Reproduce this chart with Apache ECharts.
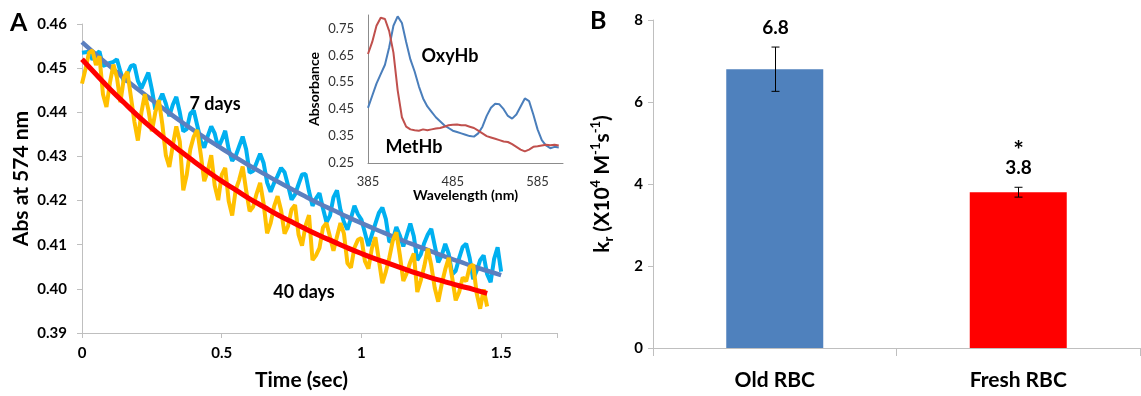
<!DOCTYPE html>
<html>
<head>
<meta charset="utf-8">
<script src="https://cdn.jsdelivr.net/npm/echarts@6/dist/echarts.min.js"></script>
<style>
html,body{margin:0;padding:0;background:#fff;}
#chart{width:1141px;height:396px;}
</style>
</head>
<body>
<div id="chart"></div>
<script>
// ---------- Panel A: kinetic traces (Abs at 574 nm) ----------
const traceStep = 0.0125; // s between points of the raw traces
const fitStep = 0.05;     // s between points of the fitted curves
// raw trace, RBC stored 7 days (cyan)
const trace7days = [
  0.4535,0.4536,0.4537,0.4519,0.4531,0.4538,0.4505,0.4508,0.4512,0.4514,
  0.4520,0.4492,0.4469,0.4487,0.4505,0.4507,0.4471,0.4454,0.4472,0.4490,
  0.4452,0.4406,0.4424,0.4442,0.4420,0.4391,0.4417,0.4435,0.4400,0.4357,
  0.4362,0.4397,0.4404,0.4370,0.4336,0.4320,0.4346,0.4368,0.4352,0.4320,
  0.4337,0.4358,0.4316,0.4290,0.4301,0.4323,0.4345,0.4316,0.4263,0.4267,
  0.4286,0.4306,0.4285,0.4241,0.4220,0.4240,0.4256,0.4274,0.4264,0.4234,
  0.4202,0.4214,0.4237,0.4259,0.4260,0.4221,0.4188,0.4205,0.4217,0.4182,
  0.4151,0.4166,0.4207,0.4223,0.4179,0.4151,0.4134,0.4160,0.4188,0.4169,
  0.4157,0.4127,0.4097,0.4123,0.4148,0.4172,0.4184,0.4158,0.4106,0.4111,
  0.4140,0.4121,0.4096,0.4122,0.4148,0.4119,0.4065,0.4078,0.4104,0.4123,
  0.4136,0.4098,0.4060,0.4076,0.4102,0.4079,0.4033,0.4041,0.4070,0.4095,
  0.4102,0.4070,0.4022,0.4041,0.4065,0.4076,0.4033,0.4015,0.4068,0.4094,
  0.4039
];
// raw trace, RBC stored 40 days (yellow)
const trace40days = [
  0.4465,0.4498,0.4535,0.4540,0.4507,0.4527,0.4441,0.4412,0.4467,0.4508,
  0.4479,0.4423,0.4478,0.4492,0.4435,0.4379,0.4336,0.4399,0.4441,0.4406,
  0.4357,0.4400,0.4428,0.4373,0.4303,0.4276,0.4325,0.4368,0.4334,0.4223,
  0.4259,0.4316,0.4345,0.4360,0.4305,0.4244,0.4266,0.4303,0.4234,0.4201,
  0.4258,0.4274,0.4199,0.4166,0.4224,0.4247,0.4277,0.4223,0.4176,0.4186,
  0.4216,0.4240,0.4193,0.4126,0.4149,0.4187,0.4210,0.4178,0.4125,0.4142,
  0.4180,0.4190,0.4123,0.4098,0.4143,0.4167,0.4065,0.4076,0.4093,0.4139,
  0.4149,0.4118,0.4086,0.4118,0.4149,0.4125,0.4058,0.4048,0.4093,0.4111,
  0.4115,0.4063,0.4046,0.4092,0.4117,0.4065,0.4013,0.4039,0.4071,0.4110,
  0.4128,0.4077,0.4018,0.4036,0.4061,0.4080,0.3993,0.4019,0.4051,0.4091,
  0.4053,0.4002,0.3971,0.4011,0.4044,0.4070,0.4025,0.3974,0.3993,0.4026,
  0.4017,0.4050,0.4055,0.3990,0.3955,0.3999,0.3960
];
// fitted curves
const fit7days = [
  0.4559,0.4531,0.4504,0.4477,0.4452,0.4428,0.4404,0.4381,0.4359,0.4338,
  0.4318,0.4298,0.4279,0.4261,0.4243,0.4226,0.4209,0.4193,0.4178,0.4163,
  0.4149,0.4135,0.4122,0.4109,0.4097,0.4085,0.4073,0.4062,0.4051,0.4041,
  0.4031
];
const fit40days = [
  0.4520,0.4486,0.4453,0.4422,0.4392,0.4364,0.4338,0.4313,0.4289,0.4266,
  0.4244,0.4224,0.4204,0.4186,0.4168,0.4152,0.4136,0.4121,0.4107,0.4093,
  0.4080,0.4068,0.4057,0.4046,0.4035,0.4025,0.4016,0.4007,0.3999,0.3990
];
const absTicks = [0.39,0.40,0.41,0.42,0.43,0.44,0.45,0.46];
const timeTicks = [0, 0.5, 1, 1.5];

// ---------- Inset: absorption spectra ----------
const wlStart = 385, wlStep = 5;
const oxyHb = [
  0.455,0.500,0.545,0.580,0.615,0.680,0.760,0.795,0.770,0.700,
  0.635,0.590,0.535,0.490,0.460,0.440,0.420,0.405,0.390,0.380,
  0.370,0.365,0.360,0.355,0.350,0.348,0.360,0.385,0.425,0.455,
  0.470,0.468,0.450,0.425,0.415,0.430,0.460,0.490,0.480,0.430,
  0.375,0.335,0.315,0.305,0.310,0.308
];
const metHb = [
  0.655,0.700,0.760,0.790,0.785,0.740,0.660,0.520,0.420,0.385,
  0.375,0.372,0.370,0.375,0.372,0.375,0.378,0.380,0.385,0.390,
  0.392,0.393,0.390,0.390,0.385,0.380,0.370,0.360,0.350,0.345,
  0.340,0.335,0.330,0.328,0.320,0.310,0.300,0.293,0.300,0.310,
  0.312,0.315,0.318,0.316,0.318,0.315
];
const insetAbsTicks = [0.25,0.35,0.45,0.55,0.65,0.75];
const insetWlTicks = [385,485,585];

// ---------- Panel B: rate constants ----------
const groups = ['Old RBC','Fresh RBC'];
const kr = [6.8, 3.8];
const krErr = [0.54, 0.12];
const krLabels = ['6.8','3.8'];
const sigMarks = ['', '*'];
const barColors = ['#4F81BD','#FF0000'];

const FONT = 'Lato';
const trace = (arr, step) => arr.map((v,i)=>[+(i*step).toFixed(4), v]);
const spec = arr => arr.map((v,i)=>[wlStart + i*wlStep, v]);
const hasTick = (ticks, v) => ticks.some(t => Math.abs(t - v) < 1e-6);

const chart = echarts.init(document.getElementById('chart'));
const axisGray = '#BFBFBF';

const option = {
  animation: false,
  backgroundColor: '#fff',
  textStyle: {fontFamily: FONT},
  grid: [
    {left: 82, top: 24, width: 475, height: 312},
    {left: 368, top: 15, width: 195, height: 148},
    {left: 653, top: 20, width: 487, height: 328}
  ],
  xAxis: [
    {
      gridIndex: 0, type: 'value', min: 0, max: 1.7, interval: 0.5,
      axisLine: {show: true, lineStyle: {color: axisGray, width: 1}},
      axisTick: {show: true, length: 5, lineStyle: {color: axisGray}},
      splitLine: {show: false},
      axisLabel: {fontFamily: FONT, fontWeight: 'bold', fontSize: 15, color: '#000', margin: 13,
        formatter: v => hasTick(timeTicks, v) ? String(v) : ''},
      name: 'Time (sec)', nameLocation: 'middle', nameGap: 37,
      nameTextStyle: {fontFamily: FONT, fontWeight: 'bold', fontSize: 21, color: '#000', padding: [0, 36, 0, 0]}
    },
    {
      gridIndex: 1, type: 'value', min: 385, max: 615, interval: 5,
      axisLine: {show: true, lineStyle: {color: '#8C8C8C', width: 1}},
      axisTick: {show: false}, splitLine: {show: false},
      axisLabel: {fontFamily: FONT, fontSize: 13, color: '#333', margin: 12, showMaxLabel: false,
        formatter: v => hasTick(insetWlTicks, v) ? String(Math.round(v)) : ''},
      name: 'Wavelength (nm)', nameLocation: 'middle', nameGap: 23,
      nameTextStyle: {fontFamily: FONT, fontWeight: 'bold', fontSize: 14, color: '#000'}
    },
    {
      gridIndex: 2, type: 'category', data: groups,
      axisLine: {show: true, lineStyle: {color: axisGray, width: 1}},
      axisTick: {show: true, length: 8, lineStyle: {color: axisGray}},
      axisLabel: {fontFamily: FONT, fontWeight: 'bold', fontSize: 21, color: '#000', margin: 22}
    }
  ],
  yAxis: [
    {
      gridIndex: 0, type: 'value', min: 0.39, max: 0.46, interval: 0.01,
      axisLine: {show: true, lineStyle: {color: axisGray, width: 1}},
      axisTick: {show: true, length: 5, lineStyle: {color: axisGray}},
      splitLine: {show: false},
      axisLabel: {fontFamily: FONT, fontWeight: 'bold', fontSize: 15, color: '#000', margin: 15,
        formatter: v => hasTick(absTicks, v) ? v.toFixed(2) : ''},
      name: 'Abs at 574 nm', nameLocation: 'middle', nameGap: 50,
      nameTextStyle: {fontFamily: FONT, fontWeight: 'bold', fontSize: 21, color: '#000'}
    },
    {
      gridIndex: 1, type: 'value', min: 0.25, max: 0.80, interval: 0.05,
      axisLine: {show: true, lineStyle: {color: '#8C8C8C', width: 1}},
      axisTick: {show: false}, splitLine: {show: false},
      axisLabel: {fontFamily: FONT, fontSize: 13, color: '#333', margin: 14,
        formatter: v => hasTick(insetAbsTicks, v) ? v.toFixed(2) : ''},
      name: 'Absorbance', nameLocation: 'middle', nameGap: 47,
      nameTextStyle: {fontFamily: FONT, fontWeight: 'bold', fontSize: 14, color: '#000'}
    },
    {
      gridIndex: 2, type: 'value', min: 0, max: 8, interval: 2,
      axisLine: {show: true, lineStyle: {color: axisGray, width: 1}},
      axisTick: {show: true, length: 5, lineStyle: {color: axisGray}},
      splitLine: {show: false},
      axisLabel: {fontFamily: FONT, fontWeight: 'bold', fontSize: 15, color: '#000', margin: 10},
      name: '{n|k}{sub|r}{n| (X10}{sup|4}{n| M}{sup|-1}{n|s}{sup|-1}{n|)}',
      nameLocation: 'middle', nameGap: 38,
      nameTextStyle: {
        rich: {
          n: {fontFamily: FONT, fontWeight: 'bold', fontSize: 21, color: '#000', lineHeight: 26, verticalAlign: 'middle'},
          sub: {fontFamily: FONT, fontWeight: 'bold', fontSize: 13, color: '#000', lineHeight: 14, verticalAlign: 'bottom'},
          sup: {fontFamily: FONT, fontWeight: 'bold', fontSize: 13, color: '#000', lineHeight: 14, verticalAlign: 'top'}
        }
      }
    }
  ],
  series: [
    {type: 'line', xAxisIndex: 0, yAxisIndex: 0, data: trace(trace7days, traceStep), showSymbol: false,
      lineStyle: {color: '#00B0F0', width: 4}, silent: true},
    {type: 'line', xAxisIndex: 0, yAxisIndex: 0, data: trace(fit7days, fitStep), showSymbol: false, smooth: true,
      lineStyle: {color: '#5B7FBF', width: 4.5}, silent: true},
    {type: 'line', xAxisIndex: 0, yAxisIndex: 0, data: trace(trace40days, traceStep), showSymbol: false,
      lineStyle: {color: '#FFC000', width: 4}, silent: true},
    {type: 'line', xAxisIndex: 0, yAxisIndex: 0, data: trace(fit40days, fitStep), showSymbol: false, smooth: true,
      lineStyle: {color: '#FF0000', width: 5}, silent: true},
    {type: 'line', xAxisIndex: 1, yAxisIndex: 1, data: spec(oxyHb), showSymbol: false,
      lineStyle: {color: '#4A7EBB', width: 2}, silent: true},
    {type: 'line', xAxisIndex: 1, yAxisIndex: 1, data: spec(metHb), showSymbol: false,
      lineStyle: {color: '#C0504D', width: 2}, silent: true},
    {type: 'bar', xAxisIndex: 2, yAxisIndex: 2, barWidth: 97, z: 2,
      data: kr.map((v,i)=>({value: v, itemStyle: {color: barColors[i]}})), silent: true},
    {type: 'custom', xAxisIndex: 2, yAxisIndex: 2, silent: true, clip: false, z: 10,
      data: kr.map((v,i)=>[i, v - krErr[i], v + krErr[i]]),
      renderItem: function(params, api){
        const i = api.value(0);
        const lo = api.coord([i, api.value(1)]);
        const hi = api.coord([i, api.value(2)]);
        const x = Math.round(lo[0]) + 0.5;
        const cap = 4;
        const ls = {stroke: '#000', lineWidth: 1};
        const children = [
          {type: 'line', shape: {x1: x, y1: hi[1], x2: x, y2: lo[1]}, style: ls},
          {type: 'line', shape: {x1: x-cap, y1: hi[1], x2: x+cap, y2: hi[1]}, style: ls},
          {type: 'line', shape: {x1: x-cap, y1: lo[1], x2: x+cap, y2: lo[1]}, style: ls},
          {type: 'text', style: {text: krLabels[params.dataIndex], x: x, y: hi[1]-19, align: 'center', verticalAlign: 'middle',
            fontFamily: FONT, fontWeight: 'bold', fontSize: 19, fill: '#000'}}
        ];
        if (sigMarks[params.dataIndex]) {
          children.push({type: 'text', style: {text: sigMarks[params.dataIndex], x: x, y: hi[1]-36, align: 'center', verticalAlign: 'middle',
            fontFamily: FONT, fontWeight: 'bold', fontSize: 25, fill: '#000'}});
        }
        return {type: 'group', children: children};
      }
    }
  ],
  graphic: [
    {type: 'text', left: 10, top: 10, style: {text: 'A', fontFamily: FONT, fontWeight: 'bold', fontSize: 25, fill: '#000'}},
    {type: 'text', left: 590, top: 8, style: {text: 'B', fontFamily: FONT, fontWeight: 'bold', fontSize: 25, fill: '#000'}},
    {type: 'text', x: 215, y: 104, style: {text: '7 days', align: 'center', verticalAlign: 'middle', fontFamily: FONT, fontWeight: 'bold', fontSize: 18, fill: '#000'}},
    {type: 'text', x: 304, y: 292, style: {text: '40 days', align: 'center', verticalAlign: 'middle', fontFamily: FONT, fontWeight: 'bold', fontSize: 18, fill: '#000'}},
    {type: 'text', x: 450, y: 56, style: {text: 'OxyHb', align: 'center', verticalAlign: 'middle', fontFamily: FONT, fontWeight: 'bold', fontSize: 18, fill: '#000'}},
    {type: 'text', x: 414, y: 147, style: {text: 'MetHb', align: 'center', verticalAlign: 'middle', fontFamily: FONT, fontWeight: 'bold', fontSize: 18, fill: '#000'}}
  ]
};
chart.setOption(option);
</script>
</body>
</html>
